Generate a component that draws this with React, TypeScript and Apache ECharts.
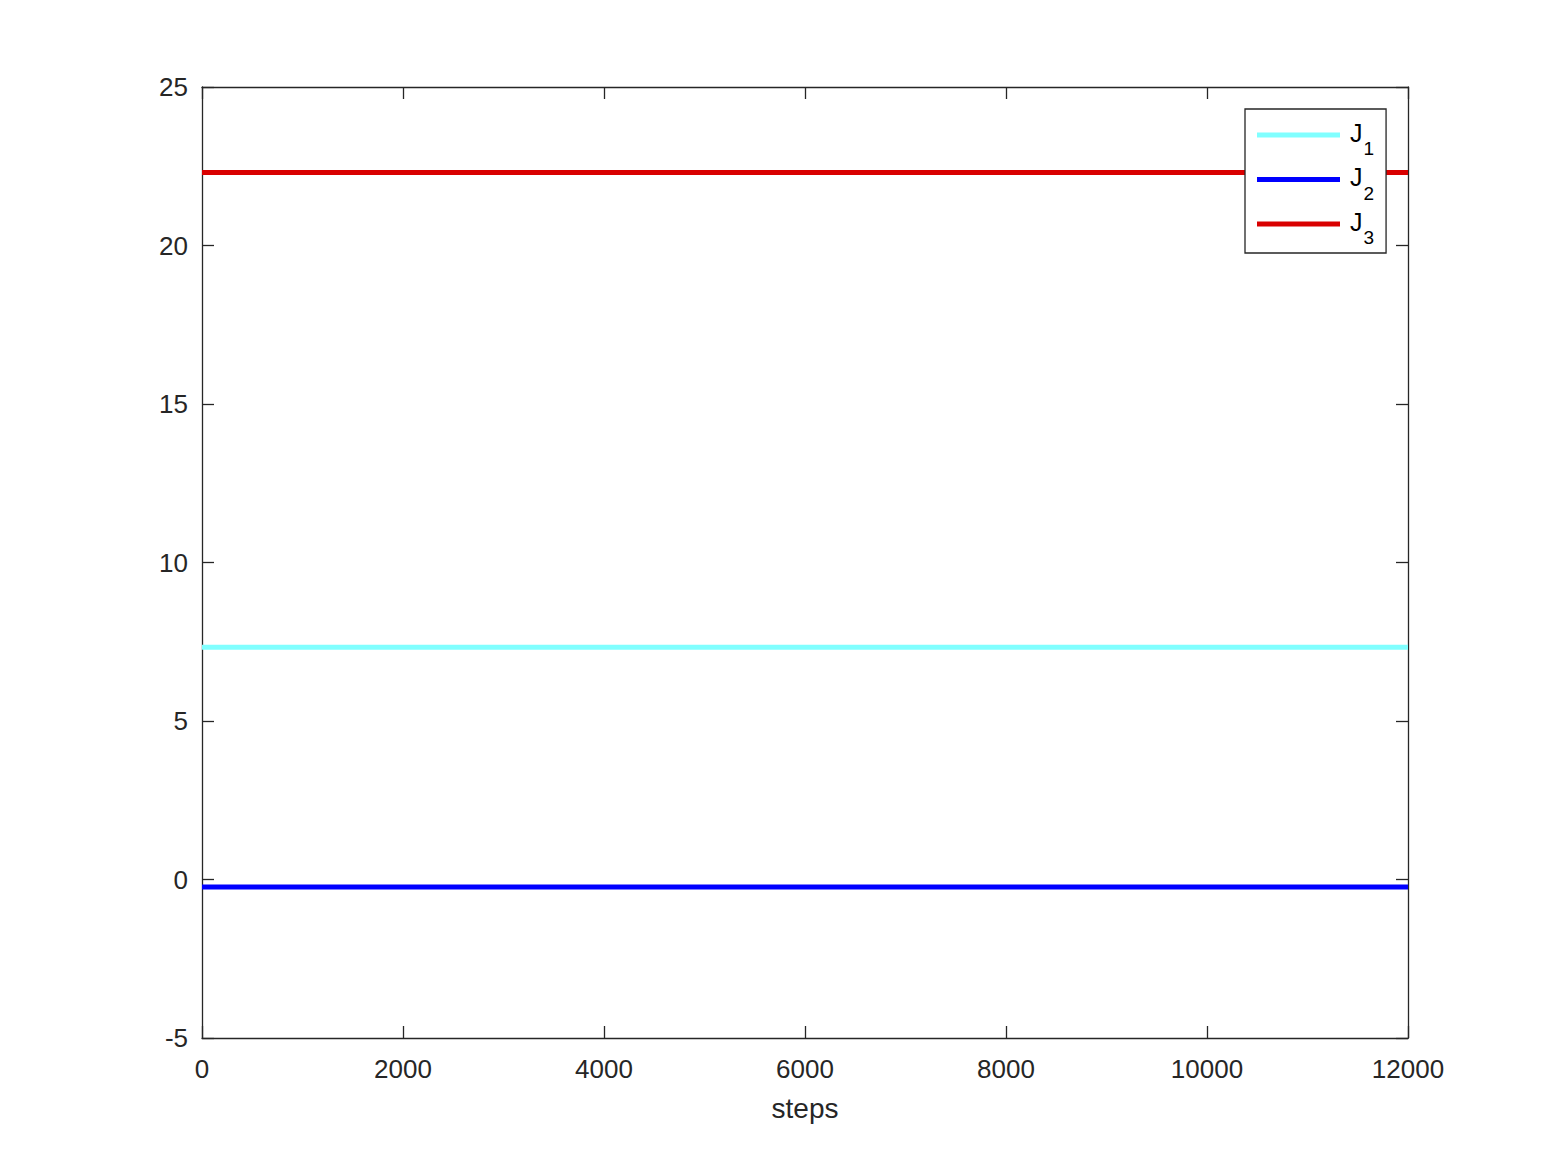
import React, { useEffect, useRef } from "react";
import * as echarts from "echarts";

const steps = [0, 12000];
const J1 = [7.33, 7.33];
const J2 = [-0.24, -0.24];
const J3 = [22.3, 22.3];
const seriesNames = ["J1", "J2", "J3"];
const seriesColors = ["#80FFFF", "#0000FF", "#D90000"];
const xTicks = { min: 0, max: 12000, interval: 2000 };
const yTicks = { min: -5, max: 25, interval: 5 };

const FONT = "Liberation Sans, Arial, Helvetica, sans-serif";
const AX = "#262626";

export default function App() {
  const ref = useRef<HTMLDivElement>(null);
  useEffect(() => {
    const chart = echarts.init(ref.current!, undefined, { renderer: "svg" });
    const values = [J1, J2, J3];
    const axisCommon = {
      axisLine: { show: true, onZero: false, lineStyle: { color: AX, width: 1.3 } },
      axisTick: { show: true, inside: true, length: 12, lineStyle: { color: AX, width: 1.3 } },
      splitLine: { show: false },
    };
    chart.setOption({
      animation: false,
      backgroundColor: "#ffffff",
      textStyle: { fontFamily: FONT },
      grid: { left: 202, top: 87, width: 1206, height: 951, containLabel: false },
      xAxis: [
        {
          type: "value",
          position: "bottom",
          ...xTicks,
          ...axisCommon,
          axisLabel: { color: AX, fontSize: 26, margin: 18, fontFamily: FONT, formatter: (v: number) => String(v) },
          name: "steps",
          nameLocation: "middle",
          nameGap: 56,
          nameTextStyle: { color: AX, fontSize: 28, fontFamily: FONT },
        },
        {
          type: "value",
          position: "top",
          ...xTicks,
          ...axisCommon,
          axisLabel: { show: false },
        },
      ],
      yAxis: [
        {
          type: "value",
          position: "left",
          ...yTicks,
          ...axisCommon,
          axisLabel: { color: AX, fontSize: 26, margin: 14, fontFamily: FONT },
        },
        {
          type: "value",
          position: "right",
          ...yTicks,
          ...axisCommon,
          axisLabel: { show: false },
        },
      ],
      legend: {
        show: true,
        orient: "vertical",
        left: 1245,
        top: 109,
        backgroundColor: "#ffffff",
        borderColor: AX,
        borderWidth: 1.3,
        borderRadius: 0,
        padding: [11, 12, 6, 12],
        itemGap: 6.5,
        itemWidth: 83,
        itemHeight: 5,
        icon: "rect",
        data: seriesNames,
        formatter: (name: string) => `{j|J}{s|${name.slice(1)}}`,
        textStyle: {
          color: "#000000",
          fontFamily: FONT,
          padding: [0, 0, 0, 5],
          rich: {
            j: { fontSize: 25, lineHeight: 30, color: "#000", fontFamily: FONT, verticalAlign: "top" },
            s: { fontSize: 19, lineHeight: 18, color: "#000", fontFamily: FONT, verticalAlign: "top", padding: [19, 0, 0, 1] },
          },
        },
      },
      series: seriesNames.map((name, i) => ({
        name,
        type: "line",
        xAxisIndex: 0,
        yAxisIndex: 0,
        data: steps.map((s, k) => [s, values[i][k]]),
        showSymbol: false,
        symbol: "none",
        lineStyle: { color: seriesColors[i], width: 5 },
        itemStyle: { color: seriesColors[i] },
        z: 1,
      })),
    });
    return () => chart.dispose();
  }, []);
  return (
    <div
      ref={ref}
      style={{ position: "fixed", left: 0, top: 0, width: 1555, height: 1166, background: "#fff" }}
    />
  );
}
